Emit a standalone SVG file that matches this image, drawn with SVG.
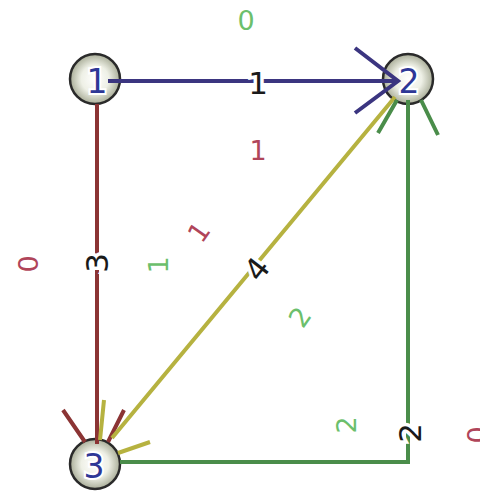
<svg xmlns="http://www.w3.org/2000/svg" width="480" height="492" viewBox="0 0 480 492">
<defs>
<radialGradient id="ng" cx="50%" cy="50%" r="50%">
<stop offset="0%" stop-color="#ffffff"/>
<stop offset="55%" stop-color="#eef0e6"/>
<stop offset="100%" stop-color="#a9ad98"/>
</radialGradient>
</defs>
<style>
.node{fill:url(#ng);stroke:#2a2a2a;stroke-width:2.5}
.nl{font-family:"DejaVu Sans",sans-serif;font-size:33px;fill:#2e3796;text-anchor:middle;dominant-baseline:central;stroke:#ffffff;stroke-width:4;paint-order:stroke}
.e{fill:none;stroke-width:4;stroke-linecap:butt}
.el{font-family:"DejaVu Sans",sans-serif;font-size:31px;fill:#1a1a1a;text-anchor:middle;dominant-baseline:central;stroke:#ffffff;stroke-width:7;paint-order:stroke}
.g{font-family:"DejaVu Sans",sans-serif;font-size:27px;fill:#6cbf6c;text-anchor:middle;dominant-baseline:central}
.r{font-family:"DejaVu Sans",sans-serif;font-size:27px;fill:#b0455a;text-anchor:middle;dominant-baseline:central}
</style>
<rect width="480" height="492" fill="#ffffff"/>
<g id="node1"><circle class="node" cx="95" cy="79" r="25"/><text class="nl" x="97" y="81">1</text></g>
<g id="node2"><circle class="node" cx="408" cy="79" r="25"/><text class="nl" x="409" y="81">2</text></g>
<g id="node3"><circle class="node" cx="95" cy="464" r="25"/><text class="nl" x="94" y="466">3</text></g>
<g id="connectors">
<path class="e" stroke="#3b3580" d="M108 81 H396 M355 48 L398 81 L355 113"/>
<path class="e" stroke="#8b3434" stroke-width="3.5" d="M97 104 V444 M63 410 L85 442 M124 410 L108 442"/>
<path class="e" stroke="#b6b240" d="M395 97 L112 438 M104 400 L100 440 M150 442 L118 453"/>
<path class="e" stroke="#4a8d4a" stroke-width="5" d="M120 462 H408 V100 M378 133 L397 100 M438 135 L421 100"/>
</g>
<g id="labels">
<text class="el" x="258" y="83">1</text>
<text class="el" transform="translate(97 263) rotate(-90)">3</text>
<text class="el" transform="translate(257 269) rotate(-52)">4</text>
<text class="el" transform="translate(410 433) rotate(-90)">2</text>
<text class="g" x="246" y="20">0</text>
<text class="r" x="258" y="150">1</text>
<text class="r" transform="translate(28 264) rotate(-90)">0</text>
<text class="g" transform="translate(158 265) rotate(-90)">1</text>
<text class="r" transform="translate(199 232) rotate(-55)">1</text>
<text class="g" transform="translate(300 317) rotate(-55)">2</text>
<text class="g" transform="translate(346 425) rotate(-90)">2</text>
<text class="r" transform="translate(477 435) rotate(-90)">0</text>
</g>
</svg>
